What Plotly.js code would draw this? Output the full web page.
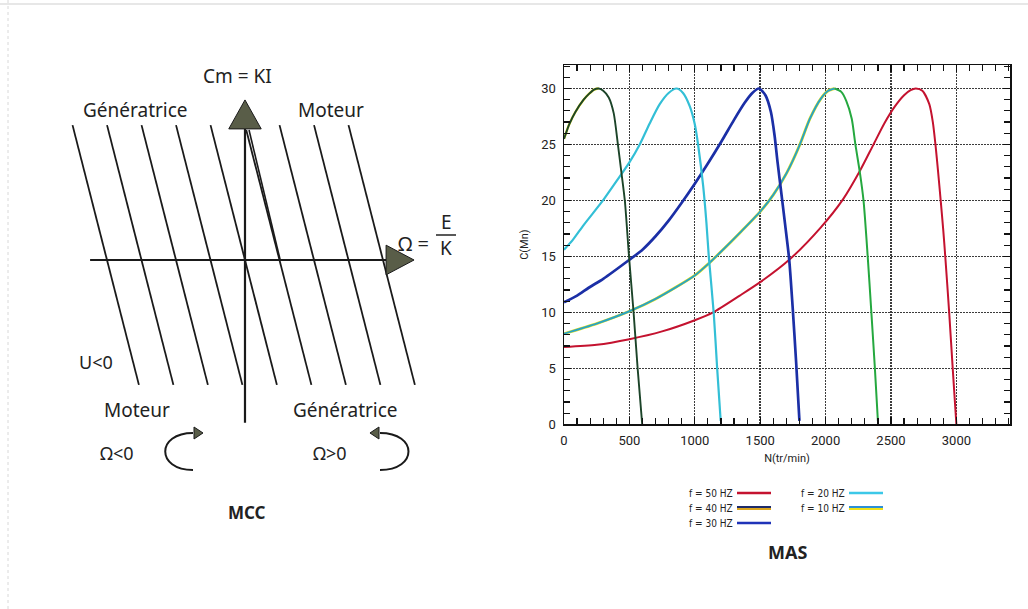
<!DOCTYPE html>
<html><head><meta charset="utf-8">
<script src="https://cdn.plot.ly/plotly-3.0.1.min.js"></script>
<style>html,body{margin:0;padding:0;background:#fff}#chart{width:1028px;height:609px}</style>
</head><body><div id="chart"></div>
<script>
// ---------- MAS chart data ----------
const freqLabels = ['f = 50 HZ', 'f = 40 HZ', 'f = 30 HZ', 'f = 20 HZ', 'f = 10 HZ'];

const n50 = [0,250,500,750,1000,1140,1344,1500,1722,1964,2133,2265,2362,2450,2530,2600,2650,2690,2740,2793,2820,2840,2860,2880,2900,2915,2945,2972,3000];
const c50 = [6.9,7.1,7.6,8.3,9.3,10.0,11.5,12.7,14.7,17.6,20.1,22.7,24.9,26.9,28.4,29.4,29.85,30.0,29.8,28.6,27.0,25.0,22.6,20.0,17.3,15.0,10.0,5.0,0];

const n40 = [0,250,500,700,1000,1110,1190,1344,1500,1600,1700,1800,1880,1964,2020,2070,2120,2158,2200,2228,2262,2290,2322,2350,2377,2400];
const c40 = [8.1,9.0,10.1,11.2,13.3,14.4,15.3,17.1,19.0,20.5,22.4,24.9,27.3,29.1,29.8,30.0,29.7,28.9,27.3,25.0,22.5,20.0,15.0,10.0,5.0,0.3];

const n30 = [0,100,189,300,500,600,700,800,900,1000,1100,1200,1300,1380,1440,1490,1540,1582,1610,1633,1658,1690,1722,1748,1775,1800];
const c30 = [10.9,11.5,12.2,13.0,14.7,15.6,16.8,18.2,19.8,21.5,23.3,25.2,27.2,28.7,29.6,30.0,29.4,27.9,25.8,23.4,21.0,17.9,14.7,10.5,5.5,0.3];

const n20 = [0,69,150,298,400,500,579,656,732,800,860,910,962,1000,1025,1064,1089,1107,1145,1171,1198];
const c20 = [15.6,16.5,17.8,20.0,21.7,23.4,25.0,26.9,28.6,29.6,30.0,29.6,28.4,26.8,25.0,21.3,18.0,15.0,9.9,5.0,0.3];

const n10 = [0,40,87,150,189,230,265,300,342,380,412,440,465,497,532,563,598];
const c10 = [25.5,26.8,27.9,29.0,29.5,29.9,30.0,29.8,29.2,27.8,25.0,22.4,20.0,15.0,10.0,5.0,0];

const xTicks = [0,500,1000,1500,2000,2500,3000];
const yTicks = [0,5,10,15,20,25,30];

// ---------- MCC diagram values ----------
const mccOffsets = [-4,-3,-2,-1,0,1,2,3,4];   // E/K intercepts (line spacing units)
const mccSlope = -0.2555;                     // dOmega / dC
const mccTop = 3.91, mccBottom = -3.62, mccTopFromAxis = 3.77;
const mccOmegaAxis = [-4.49, 4.09];
const mccCAxis = [-4.72, 3.8];

// ---------- helpers ----------
const W = 1028, H = 609;
const px = x => x / W;
const py = y => 1 - y / H;
const FONT = 'Noto Sans, Open Sans, sans-serif';
const TFONT = 'Roboto, DejaVu Sans, sans-serif';
const ink = '#1a1a1a';

const traces = [];

// diagram slanted lines
mccOffsets.forEach(o => {
  const cTop = (o === 1) ? mccTopFromAxis : mccTop;
  traces.push({x:[o + mccSlope*cTop, o + mccSlope*mccBottom], y:[cTop, mccBottom],
    xaxis:'x2', yaxis:'y2', mode:'lines', line:{color:ink, width:1.8},
    hoverinfo:'skip', showlegend:false});
  if (o === 1) {
    traces.push({x:[o + 0.08 + mccSlope*cTop, o + 0.02], y:[cTop, 0],
      xaxis:'x2', yaxis:'y2', mode:'lines', line:{color:ink, width:1.6},
      hoverinfo:'skip', showlegend:false});
  }
});
// diagram axes
traces.push({x:mccOmegaAxis, y:[0,0], xaxis:'x2', yaxis:'y2', mode:'lines',
  line:{color:ink, width:2.2}, hoverinfo:'skip', showlegend:false});
traces.push({x:[0,0], y:mccCAxis, xaxis:'x2', yaxis:'y2', mode:'lines',
  line:{color:ink, width:2.2}, hoverinfo:'skip', showlegend:false});
// arrowheads
const headFill = '#595d48';
traces.push({x:[mccOmegaAxis[1], mccOmegaAxis[1], mccOmegaAxis[1]+0.81, mccOmegaAxis[1]],
  y:[-0.43, 0.43, 0, -0.43], xaxis:'x2', yaxis:'y2', mode:'lines', fill:'toself',
  fillcolor:headFill, line:{color:ink, width:1}, hoverinfo:'skip', showlegend:false});
traces.push({x:[-0.47, 0.47, 0, -0.47], y:[mccCAxis[1], mccCAxis[1], mccCAxis[1]+0.84, mccCAxis[1]],
  xaxis:'x2', yaxis:'y2', mode:'lines', fill:'toself',
  fillcolor:headFill, line:{color:ink, width:1}, hoverinfo:'skip', showlegend:false});

// MAS curves
function curve(n, c, color, width, name) {
  return {x:n, y:c, mode:'lines', line:{color:color, width:width, shape:'spline', smoothing:0.7},
    name:name, hoverinfo:'x+y', showlegend:false};
}
function peakIndex(c) { return c.indexOf(Math.max(...c)); }

traces.push(curve(n50, c50, '#c4122f', 2.0, freqLabels[0]));
// 40 Hz: yellow fringe + teal rising part + green falling part
const p40 = peakIndex(c40);
traces.push(curve(n40.slice(0, p40+1), c40.slice(0, p40+1), '#e8e21c', 2.9, freqLabels[1]));
traces.push(curve(n40.slice(0, p40+1), c40.slice(0, p40+1), '#2aa2c4', 1.9, freqLabels[1]));
traces.push(curve(n40.slice(p40), c40.slice(p40), '#25a83f', 2.0, freqLabels[1]));
traces.push(curve(n30, c30, '#1b2fa6', 2.7, freqLabels[2]));
traces.push(curve(n20, c20, '#33bfd6', 2.2, freqLabels[3]));
const p10 = peakIndex(c10);
traces.push(curve(n10.slice(0, p10+1), c10.slice(0, p10+1), '#e8e21c', 2.4, freqLabels[4]));
traces.push(curve(n10, c10, '#1c4429', 1.9, freqLabels[4]));

// ---------- annotations ----------
function ann(text, x, y, size, extra) {
  return Object.assign({text:text, x:px(x), y:py(y), xref:'paper', yref:'paper',
    showarrow:false, font:{family:FONT, size:size, color:'#222'},
    xanchor:'center', yanchor:'middle'}, extra || {});
}
const annotations = [
  ann('Cm = KI', 237, 76, 19),
  ann('Génératrice', 135, 110, 19),
  ann('Moteur', 331, 110, 19),
  ann('Ω =', 413, 243, 20),
  ann('E', 446, 222, 19),
  ann('K', 446, 248, 19),
  ann('U&lt;0', 96, 362, 18),
  ann('Moteur', 137, 410, 19),
  ann('Génératrice', 345, 410, 19),
  ann('Ω&lt;0', 117, 453, 18),
  ann('Ω&gt;0', 330, 453, 18),
  ann('<b>MCC</b>', 247, 512, 17),
  ann('<b>MAS</b>', 787, 552, 18)
];

// legend (text then line swatch)
const legendSpots = [[735,493],[735,508],[735,523],[847,493],[847,508]];
const legendSwatches = [
  [['#c4122f']],
  [['#1d2b6a', -1], ['#dba51e', 1]],
  [['#1f33b8']],
  [['#3cc8e8']],
  [['#2b8fd8', -1], ['#efe21a', 1]]
];
const shapes = [];
freqLabels.forEach((lab, i) => {
  const [tx, ty] = legendSpots[i];
  annotations.push(ann(lab, tx, ty, 10, {xanchor:'right',
    font:{family:'DejaVu Sans Condensed, Roboto, sans-serif', size:10, color:'#222'}}));
  legendSwatches[i].forEach(s => {
    const dy = s.length > 1 ? s[1] : 0;
    shapes.push({type:'line', xref:'paper', yref:'paper', x0:px(tx+2), x1:px(tx+36),
      y0:py(ty+dy), y1:py(ty+dy), line:{color:s[0], width: s.length > 1 ? 1.8 : 2.6}});
  });
});

// fraction bar of E/K
shapes.push({type:'line', xref:'paper', yref:'paper', x0:px(436), x1:px(456), y0:py(235), y1:py(235),
  line:{color:'#222', width:1.5}});

// rotation arrows (diagram)
shapes.push({type:'path', xref:'x2', yref:'y2',
  path:'M -1.507,-6.087 C -2.58,-6.087 -2.58,-5.014 -1.507,-5.014', line:{color:ink, width:2}});
shapes.push({type:'path', xref:'x2', yref:'y2',
  path:'M -1.217,-5.014 L -1.478,-4.841 L -1.478,-5.188 Z', fillcolor:headFill, line:{color:ink, width:1}});
shapes.push({type:'path', xref:'x2', yref:'y2',
  path:'M 3.913,-6.087 C 5.014,-6.087 5.014,-5.014 3.913,-5.014', line:{color:ink, width:2}});
shapes.push({type:'path', xref:'x2', yref:'y2',
  path:'M 3.623,-5.014 L 3.884,-4.841 L 3.884,-5.188 Z', fillcolor:headFill, line:{color:ink, width:1}});

// faint scan borders
shapes.push({type:'line', xref:'paper', yref:'paper', x0:0, x1:1, y0:py(4), y1:py(4),
  line:{color:'#cfcfcf', width:1}});
shapes.push({type:'line', xref:'paper', yref:'paper', x0:px(8), x1:px(8), y0:0, y1:1,
  line:{color:'#d8d8d8', width:1, dash:'dot'}});

const axisCommon = {
  showline:true, linecolor:'#111', linewidth:1.5, mirror:'allticks',
  ticks:'inside', ticklen:7, tickcolor:'#111', tickwidth:1.2,
  showgrid:true, gridcolor:'#3c3c3c', gridwidth:1.4, griddash:'2px,1px',
  zeroline:false, tickfont:{family:TFONT, size:13, color:'#222'}, fixedrange:true,
  automargin:false
};

const layout = {
  width:W, height:H, margin:{l:0, r:0, t:0, b:0},
  paper_bgcolor:'#fff', plot_bgcolor:'#fff', showlegend:false,
  xaxis:Object.assign({}, axisCommon, {
    domain:[px(564), px(1010)], range:[0, 3410], tickvals:xTicks, ticktext:xTicks.map(String),
    minor:{dtick:100, tick0:0, ticks:'inside', ticklen:6, tickcolor:'#111', showgrid:false},
    ticklabelstandoff:4,
    title:{text:'N(tr/min)', font:{family:TFONT, size:11, color:'#222'}, standoff:7}
  }),
  yaxis:Object.assign({}, axisCommon, {
    domain:[py(424.3), py(65)], range:[0, 32.1], tickvals:yTicks, ticktext:yTicks.map(String),
    minor:{dtick:1, tick0:0, ticks:'inside', ticklen:6, tickcolor:'#111', showgrid:false},
    ticklabelstandoff:4,
    title:{text:'C(Mn)', font:{family:TFONT, size:11, color:'#222'}, standoff:10}
  }),
  xaxis2:{domain:[px(40), px(480)], range:[-5.942, 6.812], anchor:'y2', visible:false, fixedrange:true},
  yaxis2:{domain:[py(540), py(40)], range:[-8.116, 6.377], anchor:'x2', visible:false, fixedrange:true},
  annotations:annotations, shapes:shapes
};

Plotly.newPlot('chart', traces, layout, {displayModeBar:false, staticPlot:true});
</script></body></html>
